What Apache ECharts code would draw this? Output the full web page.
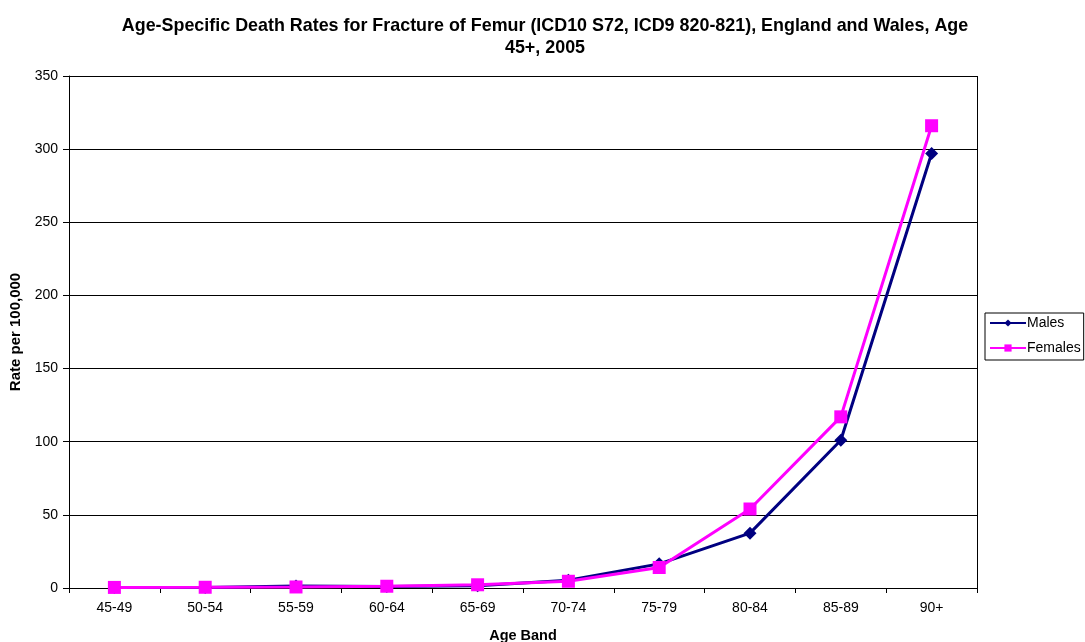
<!DOCTYPE html>
<html>
<head>
<meta charset="utf-8">
<script src="https://cdn.jsdelivr.net/npm/echarts@6/dist/echarts.min.js"></script>
<style>html,body{margin:0;padding:0;background:#fff;}#c{width:1085px;height:642px;}</style>
</head>
<body>
<div id="c"></div>
<script>
const categories = ['45-49','50-54','55-59','60-64','65-69','70-74','75-79','80-84','85-89','90+'];
const males = [0.3, 0.4, 1.3, 1.0, 1.5, 5.3, 16.5, 37.5, 101, 297];
const females = [0.4, 0.5, 0.7, 1.2, 2.2, 4.6, 14, 54, 117, 316];
const seriesNames = ['Males', 'Females'];
const titleText = 'Age-Specific Death Rates for Fracture of Femur (ICD10 S72, ICD9 820-821), England and Wales, Age\n45+, 2005';

const chart = echarts.init(document.getElementById('c'));
chart.setOption({
  animation: false,
  backgroundColor: '#fff',
  textStyle: { fontFamily: 'Liberation Sans, Arial, sans-serif' },
  title: {
    text: titleText,
    left: 540, top: 10, textAlign: 'center',
    textStyle: { fontSize: 17.9, fontWeight: 'bold', color: '#000', lineHeight: 22, fontFamily: 'Liberation Sans, Arial, sans-serif' }
  },
  legend: {
    orient: 'vertical',
    left: 985, top: 313,
    padding: [2, 3, 4, 4],
    itemGap: 9,
    itemWidth: 36, itemHeight: 9,
    borderColor: '#000', borderWidth: 1,
    textStyle: { fontSize: 14, lineHeight: 16, color: '#000', padding: [0, 0, 0, -4] },
    data: seriesNames
  },
  grid: { left: 69, right: 108, top: 76, bottom: 54, containLabel: false, outerBoundsMode: 'none' },
  xAxis: {
    type: 'category',
    data: categories,
    boundaryGap: true,
    name: 'Age Band',
    nameLocation: 'middle',
    nameGap: 40,
    nameTextStyle: { fontSize: 14.5, fontWeight: 'bold', color: '#000' },
    axisLine: { lineStyle: { color: '#000', width: 1 } },
    axisTick: { show: true, alignWithLabel: false, length: 5, lineStyle: { color: '#000' } },
    axisLabel: { fontSize: 14, color: '#000', margin: 13 }
  },
  yAxis: {
    type: 'value',
    min: 0, max: 350, interval: 50,
    name: 'Rate per 100,000',
    nameLocation: 'middle',
    nameGap: 42,
    nameTextStyle: { fontSize: 15, fontWeight: 'bold', color: '#000' },
    axisLine: { show: true, lineStyle: { color: '#000', width: 1 } },
    axisTick: { show: true, length: 6, lineStyle: { color: '#000' } },
    axisLabel: { fontSize: 14, color: '#000', margin: 11 },
    splitLine: { show: true, lineStyle: { color: '#000', width: 1 } }
  },
  series: [
    {
      name: seriesNames[0], type: 'line', data: males,
      symbol: 'diamond', symbolSize: 13,
      lineStyle: { color: '#000080', width: 3 },
      itemStyle: { color: '#000080' }
    },
    {
      name: seriesNames[1], type: 'line', data: females,
      symbol: 'rect', symbolSize: 13,
      lineStyle: { color: '#FF00FF', width: 3 },
      itemStyle: { color: '#FF00FF' }
    }
  ],
  graphic: [
    { type: 'line', shape: { x1: 977.5, y1: 76, x2: 977.5, y2: 588 }, style: { stroke: '#000', lineWidth: 1 } }
  ]
});
</script>
</body>
</html>
